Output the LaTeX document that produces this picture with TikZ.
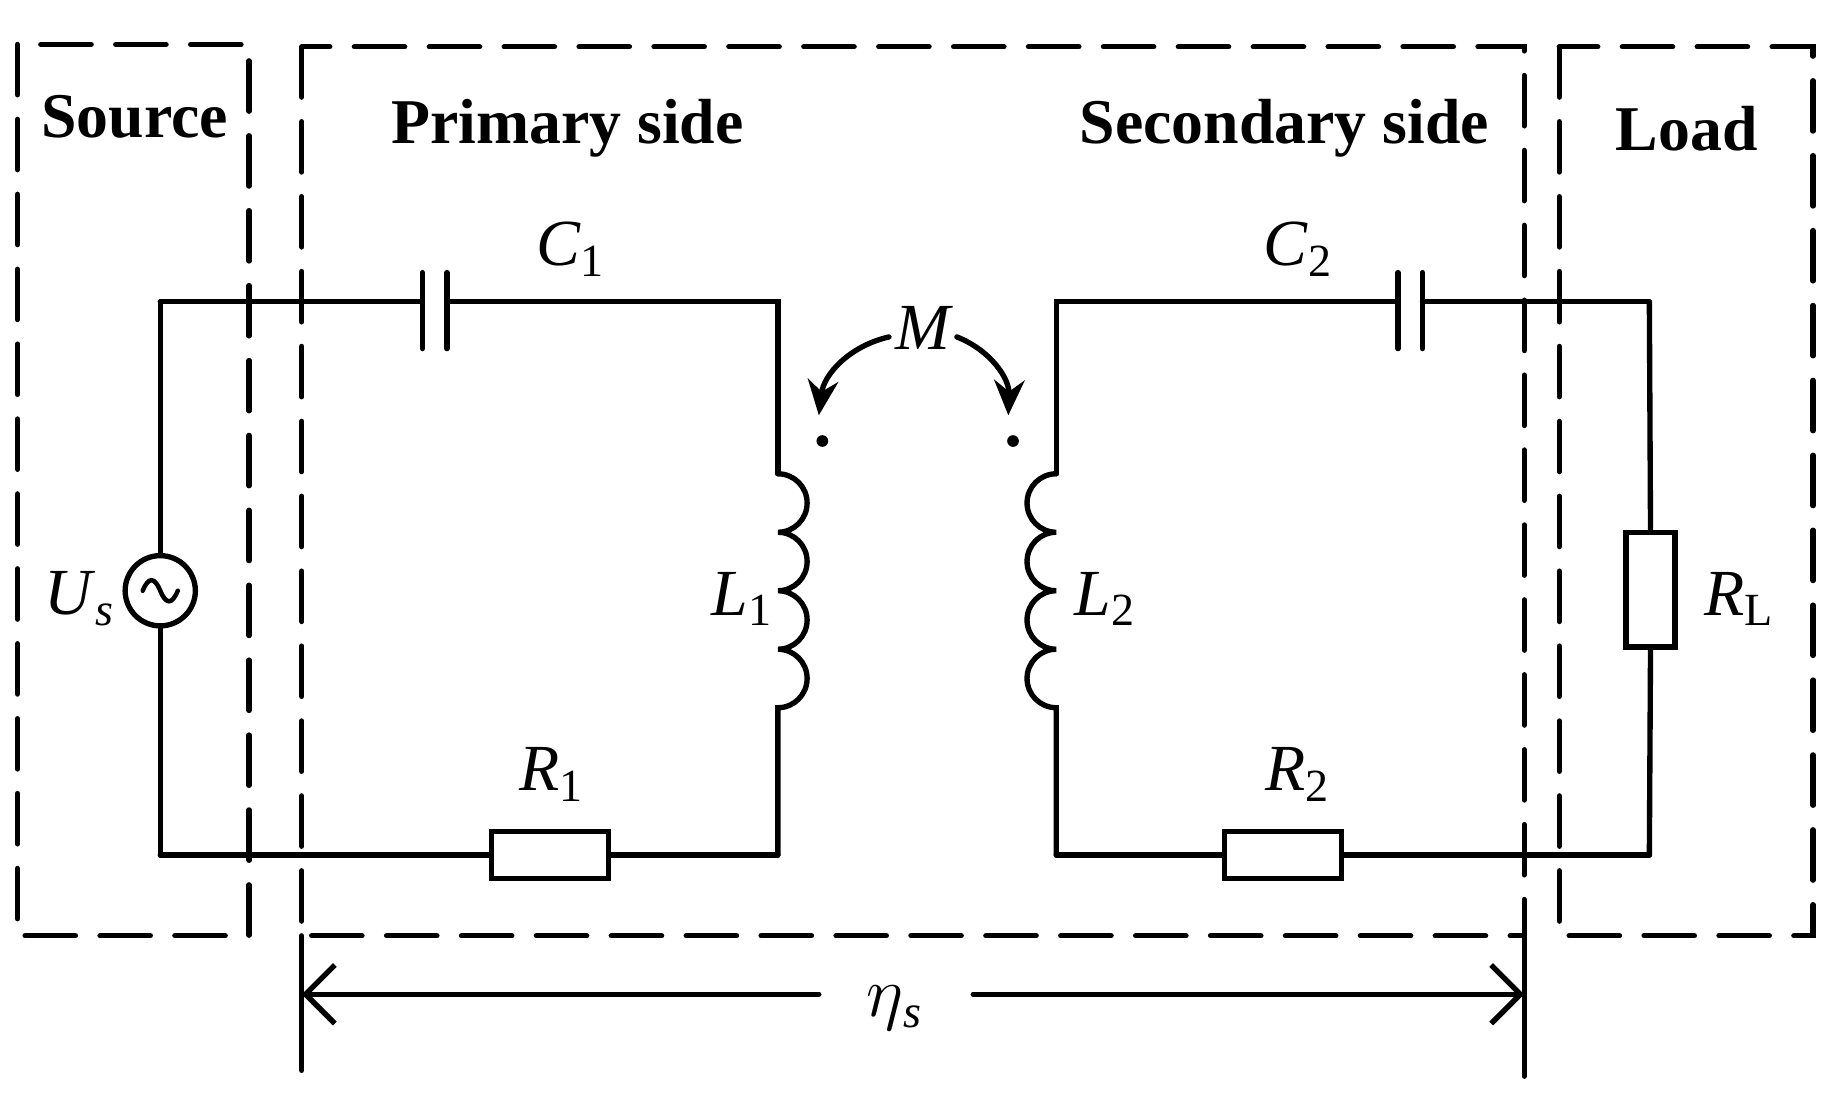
\documentclass[tikz,border=0pt]{standalone}
\usepackage{fontspec}
\setmainfont{Liberation Serif}
\usetikzlibrary{arrows.meta}
\newcommand{\myit}[2]{\textit{#1}\textsubscript{#2}}
\begin{document}
\begin{tikzpicture}[x=0.01cm,y=-0.01cm,line width=1.3pt,line cap=round,
  box/.style={dash pattern=on 4.3mm off 2.1mm},
  ttl/.style={font=\fontsize{15.5}{15.5}\selectfont\bfseries},
  lab/.style={font=\fontsize{16}{16}\selectfont},
  res/.style={draw,fill=white,minimum width=1cm,minimum height=0.4cm,inner sep=0pt}]
\useasboundingbox (0,0) rectangle (1573,938);
% boxes
\draw[box] (15,38) rectangle (213,800);
\draw[box] (258,40) rectangle (1303,800);
\draw[box] (1333,40) rectangle (1550,800);
\node[ttl] at (115,100) {Source};
\node[ttl] at (485,110) {Primary side};
\node[ttl] at (1098,110) {Secondary side};
\node[ttl] at (1442,110) {Load};
% primary
\coordinate (tl) at (137,258); \coordinate (bl) at (137,731);
\coordinate (tr) at (665,258); \coordinate (br) at (665,731);
\coordinate (c1a) at (361,258); \coordinate (c1b) at (382,258);
\draw (tl) -- (c1a) (c1b) -- (tr) -- (665,405);
\draw (361,233) -- (361,298) (382,233) -- (382,298);
\draw (665,405) arc(-90:90:25) arc(-90:90:25) arc(-90:90:25) arc(-90:90:25) -- (br);
\node[res] (R1) at (470,731) {};
\draw (bl) -- (R1.west) (R1.east) -- (br);
\node[draw,circle,minimum size=0.6cm,inner sep=0pt] (Us) at (137,505) {};
\draw (tl) -- (Us.north) (Us.south) -- (bl);
\draw[line width=1.1pt] (122,505) .. controls (127,493) and (132,493) .. (137,505) .. controls (142,517) and (147,517) .. (152,505);
% secondary
\coordinate (stl) at (903,258); \coordinate (sbl) at (903,731);
\coordinate (str) at (1410,258); \coordinate (sbr) at (1410,731);
\draw (903,405) -- (stl) -- (1195,258) (1216,258) -- (str);
\draw (1195,233) -- (1195,298) (1216,233) -- (1216,298);
\draw (903,405) arc(270:90:25) arc(270:90:25) arc(270:90:25) arc(270:90:25) -- (sbl);
\node[res] (R2) at (1097,731) {};
\draw (sbl) -- (R2.west) (R2.east) -- (sbr);
\node[draw,fill=white,minimum width=0.42cm,minimum height=0.98cm,inner sep=0pt] (RL) at (1411,504) {};
\draw (str) -- (RL.north) (RL.south) -- (sbr);
% dots & M
\fill (703,377) circle (5);
\fill (866,377) circle (5);
\draw[-{Stealth[length=3mm,width=2.6mm]}] (760,288) to[bend right=35] (700,355);
\draw[-{Stealth[length=3mm,width=2.6mm]}] (818,288) to[bend left=35] (862,355);
% labels
\node[lab] at (790,280) {\textit{M}};
\node[lab] at (488,213) {\myit{C}{1}};
\node[lab] at (1110,213) {\myit{C}{2}};
\node[lab] at (635,512) {\myit{L}{1}};
\node[lab] at (945,512) {\myit{L}{2}};
\node[lab] at (472,662) {\myit{R}{1}};
\node[lab] at (1110,662) {\myit{R}{2}};
\node[lab] at (1487,512) {\myit{R}{L}};
\node[lab] at (68,512) {\myit{U}{\textit{s}}};
% dimension
\coordinate (d1) at (258,915); \coordinate (d2) at (1303,920);
\draw (258,800) -- (d1);
\draw (1303,800) -- (d2);
\coordinate (a1) at (258,850); \coordinate (a2) at (1303,850);
\coordinate (g1) at (700,850); \coordinate (g2) at (832,850);
\draw[{Straight Barb[length=2.5mm,width=5mm]}-] (a1) -- (g1);
\draw[-{Straight Barb[length=2.5mm,width=5mm]}] (g2) -- (a2);
\node[lab] at (765,862) {$\eta$\textsubscript{\textit{s}}};
\end{tikzpicture}
\end{document}
